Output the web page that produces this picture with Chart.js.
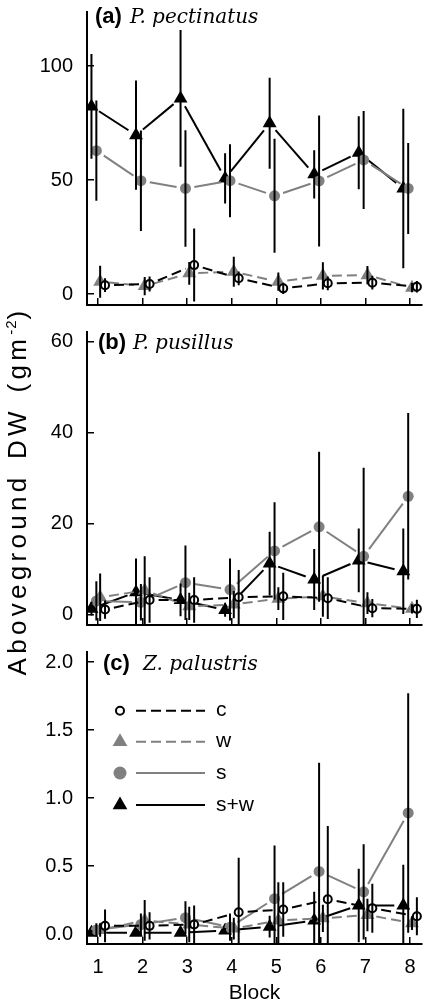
<!DOCTYPE html>
<html><head><meta charset="utf-8">
<script src="https://cdn.jsdelivr.net/npm/chart.js@4.4.1/dist/chart.umd.min.js"></script>
<style>
html,body{margin:0;padding:0;background:#fff;}
body{width:425px;height:1002px;position:relative;overflow:hidden;}
canvas{position:absolute;left:0;}
#ytitle{position:absolute;left:-183px;top:476px;width:400px;height:30px;line-height:30px;text-align:center;transform:rotate(-90deg);font:26px 'Liberation Sans',Arial,sans-serif;letter-spacing:4.3px;word-spacing:3px;white-space:nowrap;color:#000;}
#ytitle sup{font-size:15px;letter-spacing:1px;vertical-align:0;position:relative;top:-10px;}
</style></head><body>
<canvas id="ca" width="425" height="320" style="top:0px"></canvas>
<canvas id="cb" width="425" height="320" style="top:320px"></canvas>
<canvas id="cc" width="425" height="362" style="top:640px"></canvas>
<div id="ytitle">Aboveground DW (gm<sup>-2</sup>)</div>
<script>
// ---------------- data ----------------
const blocks = [1, 2, 3, 4, 5, 6, 7, 8];
const treatmentLabels = ['c', 'w', 's', 's+w'];
const panelTags = ['(a)', '(b)', '(c)'];
const speciesNames = ['P. pectinatus', 'P. pusillus', 'Z. palustris'];

// Panel (a) P. pectinatus
const a_c     = [3.9, 4.4, 12.7, 6.9, 2.5, 4.7, 5.0, 3.2];
const a_c_se  = [3, 3.3, 16, 3, 2.5, 3, 3, 2.5];
const a_w     = [5.4, 3.5, 9.1, 9.8, 5.4, 8.0, 8.3, 2.8];
const a_w_se  = [7, 4, 5, 6.6, 4, 6, 4, 2];
const a_s     = [62.9, 49.7, 46.3, 49.7, 43.1, 49.6, 58.8, 46.3];
const a_s_se  = [22, 22, 25.5, 16, 25, 28.7, 21.5, 20];
const a_sw    = [82.3, 69.7, 85.8, 50.7, 74.9, 52.5, 62.0, 46.3];
const a_sw_se = [23, 24, 30, 11, 20, 10.6, 16, 35];

// Panel (b) P. pusillus
const b_c     = [1.1, 3.2, 3.2, 3.8, 4.0, 3.6, 1.4, 1.25];
const b_c_se  = [2, 5, 5, 6, 5.2, 4.6, 2, 2];
const b_w     = [3.8, 5.3, 1.8, 2.2, 3.5, 4.0, 2.5, 1.25];
const b_w_se  = [5.2, 7.5, 3, 3, 2.5, 4.5, 2.4, 1];
const b_s     = [3.0, 2.7, 7.0, 5.5, 14.0, 19.3, 12.8, 26.0];
const b_s_se  = [4.3, 4, 8.2, 6.8, 10.7, 16.5, 19.5, 18.3];
const b_sw    = [1.3, 4.9, 3.2, 1.0, 11.2, 7.7, 11.9, 9.5];
const b_sw_se = [1.5, 7.4, 3.6, 1.5, 7.0, 6.7, 7.0, 9.4];

// Panel (c) Z. palustris
const c_c     = [0.06, 0.06, 0.07, 0.16, 0.18, 0.255, 0.19, 0.13];
const c_c_se  = [0.12, 0.10, 0.14, 0.40, 0.20, 0.54, 0.18, 0.14];
const c_w     = [0.03, 0.10, 0.07, 0.04, 0.10, 0.115, 0.14, 0.08];
const c_w_se  = [0.05, 0.15, 0.13, 0.08, 0.28, 0.10, 0.12, 0.05];
const c_s     = [0.03, 0.07, 0.12, 0.05, 0.26, 0.46, 0.31, 0.89];
const c_s_se  = [0.05, 0.08, 0.12, 0.10, 0.39, 0.80, 0.35, 0.88];
const c_sw    = [0.01, 0.01, 0.01, 0.025, 0.054, 0.10, 0.21, 0.21];
const c_sw_se = [0.02, 0.02, 0.02, 0.02, 0.08, 0.21, 0.27, 0.30];

const xTicks  = [1, 2, 3, 4, 5, 6, 7, 8];
const a_yTicks = [0, 50, 100];
const b_yTicks = [0, 20, 40, 60];
const c_yTicks = [0, 0.5, 1.0, 1.5, 2.0];

// ---------------- styles ----------------
const FONT = "'Liberation Sans', Arial, Helvetica, sans-serif";
const GREY = '#808080';
const GAP = 9;
const STYLE = {
  c:  {dodge: 0.155, line: '#000', dash: [10, 5], pointStyle: 'circle',   r: 4,   bg: '#fff', bc: '#000', bw: 2, order: 1, lr: 4},
  w:  {dodge: 0.045, line: GREY,   dash: [10, 5], pointStyle: 'triangle', r: 8,   bg: GREY,   bc: GREY,   bw: 0, order: 2, lr: 8.5},
  s:  {dodge: -0.04, line: GREY,   dash: null,    pointStyle: 'circle',   r: 5.5, bg: GREY,   bc: GREY,   bw: 0, order: 3, lr: 6.5},
  sw: {dodge: -0.15, line: '#000', dash: null,    pointStyle: 'triangle', r: 8,   bg: '#000', bc: '#000', bw: 0, order: 4, lr: 8.5}
};
const KEYS = ['c', 'w', 's', 'sw'];

function gapDash(sctx, dash) {
  const L = Math.hypot(sctx.p1.x - sctx.p0.x, sctx.p1.y - sctx.p0.y);
  const inner = L - 2 * GAP;
  if (inner <= 1) return [0, L + 20];
  const pat = [0, GAP];
  if (!dash) { pat.push(inner, GAP); return pat; }
  let rem = inner, on = true;
  while (rem > 0.01) {
    const len = Math.min(on ? dash[0] : dash[1], rem);
    pat.push(len); rem -= len; on = !on;
  }
  if (on) pat.push(0, GAP); else pat.push(GAP);
  return pat;
}

function makeDatasets(series) {
  const ds = [];
  series.forEach((s, k) => {
    const st = STYLE[KEYS[k]];
    ds.push({
      label: treatmentLabels[k],
      data: blocks.map((b, i) => ({x: b + st.dodge, y: s.mean[i]})),
      order: st.order, borderColor: st.line, borderWidth: 2, fill: false,
      pointStyle: st.pointStyle, pointRadius: st.r, pointBackgroundColor: st.bg,
      pointBorderColor: st.bc, pointBorderWidth: st.bw,
      segment: {borderDash: ctx => gapDash(ctx, st.dash)}
    });
    const eb = [];
    blocks.forEach((b, i) => {
      const x = b + st.dodge;
      eb.push({x, y: s.mean[i] - s.se[i]}, {x, y: s.mean[i] + s.se[i]}, {x, y: null});
    });
    ds.push({label: treatmentLabels[k] + ' se', data: eb, order: 0, borderColor: '#000',
      borderWidth: 2, pointRadius: 0, spanGaps: false, showLine: true, fill: false});
  });
  return ds;
}

function axisCommon() {
  return {
    grid: {display: true, drawOnChartArea: false, drawTicks: true, tickLength: -7, color: '#000', lineWidth: 1.5},
    border: {display: true, color: '#000', width: 2}
  };
}

function zeroPad(sc) { sc.paddingTop = 0; sc.paddingBottom = 0; sc.paddingLeft = 0; sc.paddingRight = 0; }

function scalesCfg(yMin, yMax, yTicks, fmt, showX) {
  return {
    x: Object.assign(axisCommon(), {
      type: 'linear', min: 0.75, max: 8.27,
      afterBuildTicks: sc => { sc.ticks = xTicks.map(v => ({value: v})); },
      afterFit: sc => { sc.height = showX ? 58 : 15; zeroPad(sc); },
      ticks: {display: showX, padding: 18.5, color: '#000', autoSkip: false, maxRotation: 0,
        font: {family: FONT, size: 20}, callback: v => String(v)},
      title: {display: showX, text: 'Block', color: '#000', font: {family: FONT, size: 21, lineHeight: 1}, padding: {top: 0, bottom: -1.5}}
    }),
    y: Object.assign(axisCommon(), {
      type: 'linear', min: yMin, max: yMax,
      afterBuildTicks: sc => { sc.ticks = yTicks.map(v => ({value: v})); },
      afterFit: sc => { sc.width = 87; zeroPad(sc); },
      ticks: {padding: 21, color: '#000', font: {family: FONT, size: 20}, callback: fmt}
    })
  };
}

const panelLabel = {
  id: 'panelLabel',
  afterDraw(chart, args, o) {
    const ctx = chart.ctx;
    ctx.save();
    ctx.fillStyle = '#000'; ctx.textAlign = 'left'; ctx.textBaseline = 'alphabetic';
    ctx.font = 'bold 22px ' + FONT;
    ctx.fillText(o.tag, o.x, o.y);
    ctx.font = "italic 20px 'DejaVu Serif', serif";
    ctx.fillText(o.name, o.x2, o.y);
    ctx.restore();
  }
};

const treatLegend = {
  id: 'treatLegend',
  afterDraw(chart) {
    const ctx = chart.ctx;
    const rows = [70.7, 101.7, 133, 165];
    ctx.save();
    KEYS.forEach((key, k) => {
      const st = STYLE[key], y = rows[k];
      ctx.strokeStyle = st.line; ctx.lineWidth = 2; ctx.setLineDash(st.dash || []);
      ctx.beginPath(); ctx.moveTo(136, y); ctx.lineTo(205, y); ctx.stroke();
      ctx.setLineDash([]);
      ctx.fillStyle = st.bg; ctx.strokeStyle = st.bc; ctx.lineWidth = st.bw;
      Chart.helpers.drawPoint(ctx, {pointStyle: st.pointStyle, radius: st.lr, rotation: 0, borderWidth: st.bw}, 120, y);
      ctx.fillStyle = '#000'; ctx.font = '21px ' + FONT; ctx.textAlign = 'left'; ctx.textBaseline = 'alphabetic';
      ctx.fillText(treatmentLabels[k], 216, y + 5.5);
    });
    ctx.restore();
  }
};

function makeChart(id, series, yMin, yMax, yTicks, fmt, showX, padTop, label, legend) {
  const plugins = [panelLabel];
  if (legend) plugins.push(treatLegend);
  return new Chart(document.getElementById(id), {
    type: 'line',
    data: {datasets: makeDatasets(series)},
    options: {
      responsive: false, animation: false, devicePixelRatio: 1, events: [],
      layout: {padding: {top: padTop, right: 3, left: 0, bottom: 0}, autoPadding: false},
      scales: scalesCfg(yMin, yMax, yTicks, fmt, showX),
      plugins: {legend: {display: false}, tooltip: {enabled: false}, panelLabel: label}
    },
    plugins
  });
}

makeChart('ca', [
  {mean: a_c, se: a_c_se}, {mean: a_w, se: a_w_se}, {mean: a_s, se: a_s_se}, {mean: a_sw, se: a_sw_se}
], -4.8, 123.7, a_yTicks, v => String(v), false, 12,
  {tag: panelTags[0], name: speciesNames[0], x: 95, x2: 130, y: 22.5}, false);

makeChart('cb', [
  {mean: b_c, se: b_c_se}, {mean: b_w, se: b_w_se}, {mean: b_s, se: b_s_se}, {mean: b_sw, se: b_sw_se}
], -2.3, 62.2, b_yTicks, v => String(v), false, 11.7,
  {tag: panelTags[1], name: speciesNames[1], x: 98, x2: 133, y: 29.3}, false);

makeChart('cc', [
  {mean: c_c, se: c_c_se}, {mean: c_w, se: c_w_se}, {mean: c_s, se: c_s_se}, {mean: c_sw, se: c_sw_se}
], -0.0735, 2.076, c_yTicks, v => Number(v).toFixed(1), true, 11.7,
  {tag: panelTags[2], name: speciesNames[2], x: 103, x2: 143, y: 29.5}, true);
</script>
</body></html>
